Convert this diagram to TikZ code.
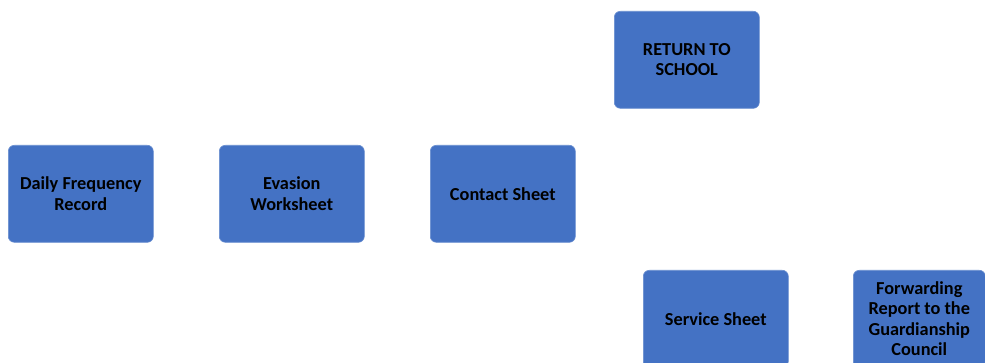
\documentclass[tikz,border=0pt]{standalone}
\usepackage{fontspec}
\setmainfont{Carlito}
\definecolor{boxblue}{HTML}{4472C4}
\begin{document}
\begin{tikzpicture}[x=1pt,y=-1pt,
  card/.style={fill=boxblue, draw=boxblue!80!white, line width=0.6pt, rounded corners=6pt, minimum width=145pt, minimum height=97pt, inner sep=0pt, align=center, font=\bfseries\fontsize{18.3}{20.5}\selectfont, text=black, anchor=north west}]
\useasboundingbox (0,0) rectangle (985,363);
\clip (0,0) rectangle (985,363);
\node[card] (daily) at (8,145) {Daily Frequency\\Record};
\node[card] (evasion) at (219,145) {Evasion\\Worksheet};
\node[card] (contact) at (430,145) {Contact Sheet};
\node[card] (return) at (614,11) {RETURN TO\\SCHOOL};
\node[card] (service) at (643,270) {Service Sheet};
\node[card, minimum width=132pt] (forward) at (853,270) {Forwarding\\Report to the\\Guardianship\\Council};
\end{tikzpicture}
\end{document}
